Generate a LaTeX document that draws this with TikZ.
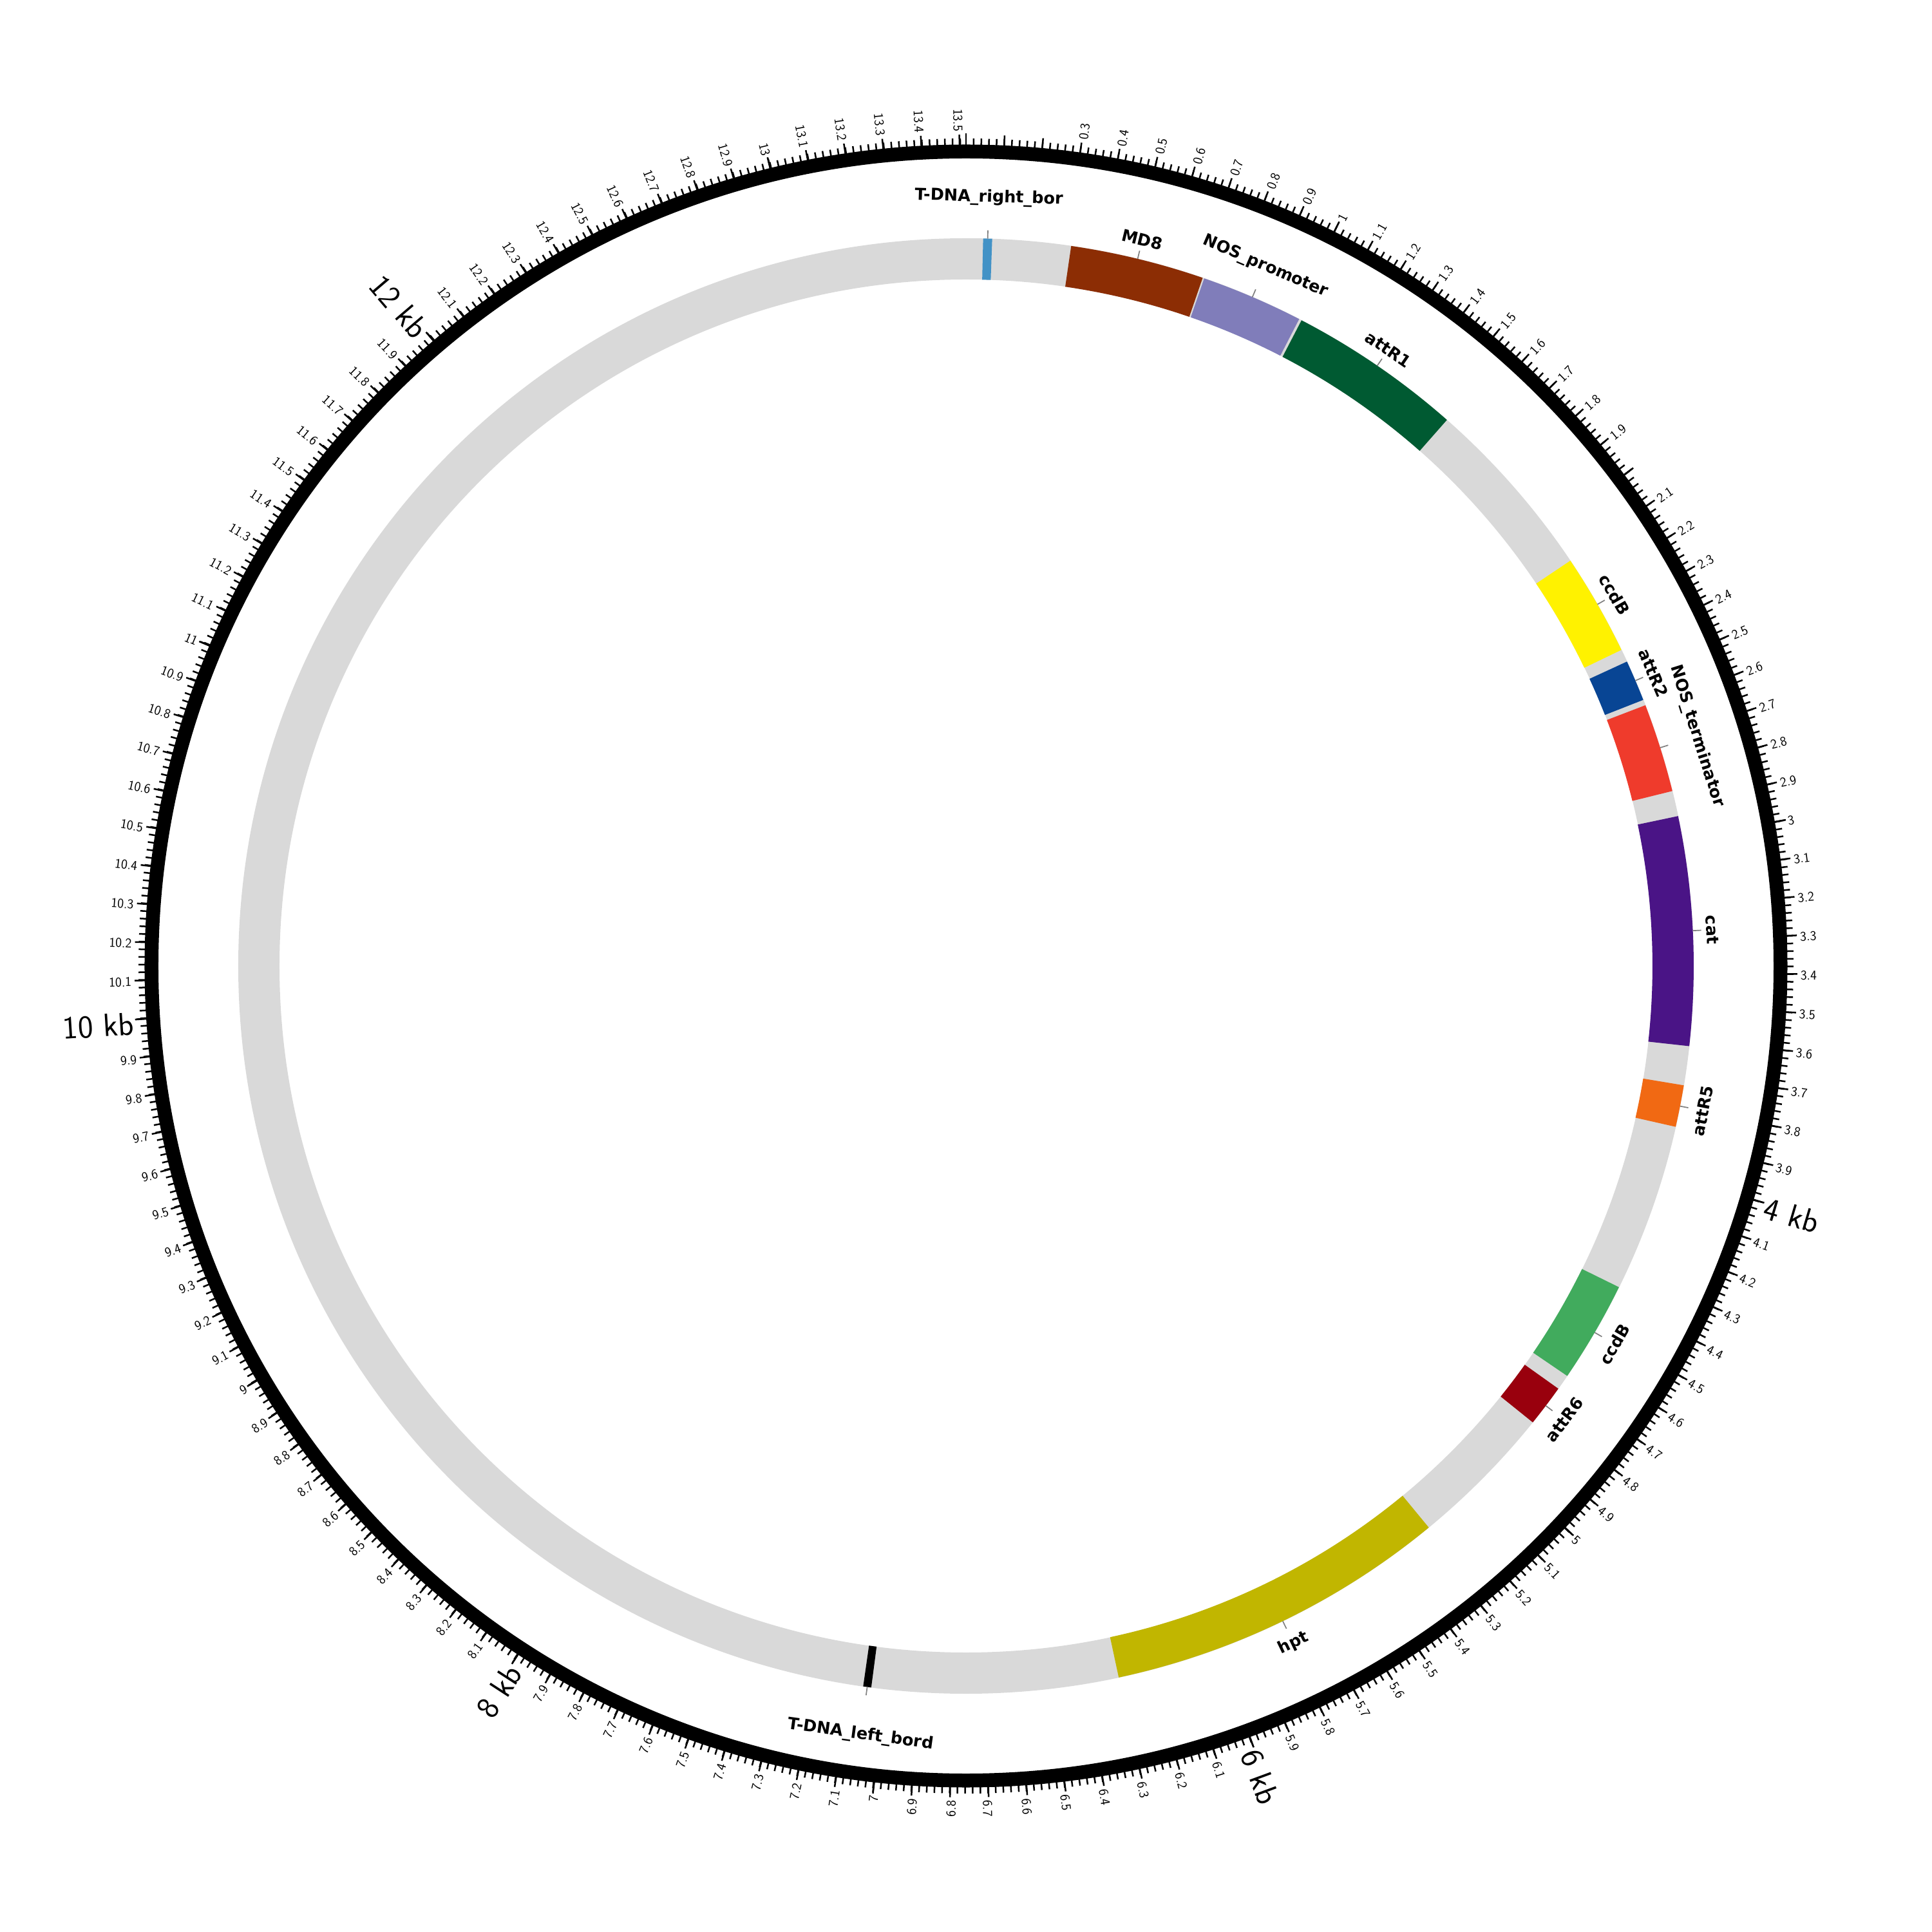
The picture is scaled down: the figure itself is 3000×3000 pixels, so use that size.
\documentclass[tikz,border=0pt]{standalone}
\usepackage{fontspec}
\newfontfamily\labfont{DejaVu Sans}
\definecolor{cRing}{HTML}{D9D9D9}
\definecolor{cRB}{HTML}{4292C6}
\definecolor{cMD}{HTML}{8C2D04}
\definecolor{cNOSp}{HTML}{807DBA}
\definecolor{cAttRa}{HTML}{005A32}
\definecolor{cCcdBa}{HTML}{FFF200}
\definecolor{cAttRb}{HTML}{084594}
\definecolor{cNOSt}{HTML}{EF3B2C}
\definecolor{cCat}{HTML}{4A1486}
\definecolor{cAttRc}{HTML}{F16913}
\definecolor{cCcdBb}{HTML}{41AB5D}
\definecolor{cAttRd}{HTML}{99000D}
\definecolor{cHpt}{HTML}{C1B600}
\definecolor{cLB}{HTML}{000000}
\definecolor{cLead}{HTML}{808080}
% #1 name, #2 start kb, #3 end kb, #4 colour, #5 label, #6 label radius, #7 flipped (0/1)
\newcommand\pmfeat[7]{%
  \fill[#4] ({90-#2*\K}:1066) -- ({90-#2*\K}:1130)
     arc[start angle={90-#2*\K}, end angle={90-#3*\K}, radius=1130]
     -- ({90-#3*\K}:1066)
     arc[start angle={90-#3*\K}, end angle={90-#2*\K}, radius=1066] -- cycle;
  \pgfmathsetmacro\pmth{(#2+#3)/2*\K}%
  \coordinate (#1a) at ({90-\pmth}:1130);
  \coordinate (#1b) at ({90-\pmth}:1143);
  \draw[leader] (#1a) -- (#1b);
  \ifnum#7=0
    \node[featlab, anchor=base, rotate={-\pmth}] (#1) at ({90-\pmth}:#6) {#5};
  \else
    \node[featlab, anchor=north, rotate={180-\pmth}] (#1) at ({90-\pmth}:#6) {#5};
  \fi
}
\begin{document}
\begin{tikzpicture}[x=1pt,y=1pt,
  tickmark/.style={line width=2.5pt, black},
  leader/.style={line width=1.7pt, color=cLead},
  featlab/.style={font=\labfont\bfseries\fontsize{25.5pt}{30pt}\selectfont, inner sep=0pt, outer sep=0pt, text height=19.4pt, text depth=6pt},
  ticklab/.style={font=\sffamily\fontsize{21pt}{25pt}\selectfont, inner sep=0pt, outer sep=0pt, text height=18pt, text depth=0pt},
  kblab/.style={font=\sffamily\fontsize{50pt}{60pt}\selectfont, inner sep=0pt, outer sep=0pt, text height=47pt, text depth=0pt}]
\fill[white] (-1500,-1500) rectangle (1500,1500);
\useasboundingbox (-1500,-1500) rectangle (1500,1500);
\pgfmathsetmacro\K{360/13.518}
% feature track background
\fill[cRing, even odd rule] (0,0) circle[radius=1130] (0,0) circle[radius=1066];
% features
\pmfeat{rb}{0.0508}{0.0775}{cRB}{T-DNA\_right\_bor}{1187}{0}
\pmfeat{md}{0.3121}{0.7127}{cMD}{MD8}{1151}{0}
\pmfeat{nosp}{0.7175}{1.0232}{cNOSp}{NOS\_promoter}{1175}{0}
\pmfeat{attra}{1.0311}{1.5535}{cAttRa}{attR1}{1151}{0}
\pmfeat{ccdba}{2.1085}{2.4126}{cCcdBa}{ccdB}{1151}{0}
\pmfeat{attrb}{2.4509}{2.5740}{cAttRb}{attR2}{1151}{0}
\pmfeat{nost}{2.5910}{2.8570}{cNOSt}{NOS\_terminator}{1183}{0}
\pmfeat{cat}{2.9330}{3.6170}{cCat}{cat}{1151}{0}
\pmfeat{attrc}{3.7340}{3.8590}{cAttRc}{attR5}{1156}{1}
\pmfeat{ccdbb}{4.3630}{4.6670}{cCcdBb}{ccdB}{1156}{1}
\pmfeat{attrd}{4.7130}{4.8380}{cAttRd}{attR6}{1156}{1}
\pmfeat{hpt}{5.2760}{6.3040}{cHpt}{hpt}{1156}{1}
\pmfeat{lb}{7.0400}{7.0640}{cLB}{T-DNA\_left\_bord}{1192}{1}
% outer scale ring
\draw[line width=21.5pt, black] (0,0) circle[radius=1264.75];
% minor ticks
\foreach \i in {0,...,675}{
  \draw[tickmark] ({90-\i*0.02*\K}:1274) -- ({90-\i*0.02*\K}:1285);
}
% major ticks
\foreach \k in {0,...,135}{
  \draw[tickmark] ({90-\k*0.1*\K}:1274) -- ({90-\k*0.1*\K}:1291);
}
% kb ticks
\foreach \n in {0,...,13}{
  \draw[tickmark] ({90-\n*\K}:1274) -- ({90-\n*\K}:1293);
}
% small tick labels
\foreach \k in {3,...,135}{
  \pgfmathtruncatemacro\ip{(\k+0.5)/10}
  \pgfmathtruncatemacro\fp{\k-10*\ip}
  \pgfmathtruncatemacro\ev{(\fp==0 && mod(\ip,2)==0) ? 1 : 0}
  \ifnum\ev=0
    \pgfmathsetmacro\th{\k*0.1*\K}
    \ifnum\fp=0 \edef\txt{\ip}\else\edef\txt{\ip.\fp}\fi
    \pgfmathtruncatemacro\rt{\th<180 ? 1 : 0}
    \ifnum\rt=1
      \node[ticklab, anchor=west, rotate={90-\th}] (tl\k) at ({90-\th}:1296) {\txt};
    \else
      \node[ticklab, anchor=east, rotate={270-\th}] (tl\k) at ({90-\th}:1296) {\txt};
    \fi
  \fi
}
% kb labels
\foreach \n in {4,6}{
  \node[kblab, anchor=west, rotate={90-\n*\K}] (kb\n) at ({90-\n*\K}:1296) {\n\ kb};
}
\foreach \n in {8,10,12}{
  \node[kblab, anchor=east, rotate={270-\n*\K}] (kb\n) at ({90-\n*\K}:1296) {\n\ kb};
}
\end{tikzpicture}
\end{document}
